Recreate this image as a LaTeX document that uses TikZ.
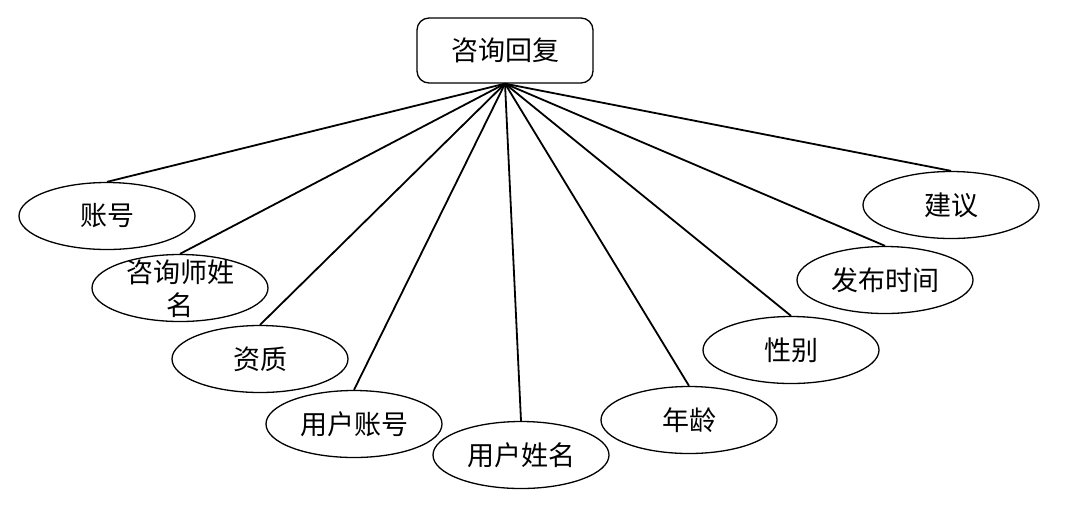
\documentclass[tikz,border=0pt]{standalone}
\usepackage{fontspec}
\newfontfamily\cjk{Noto Sans CJK SC}
\usetikzlibrary{shapes.geometric}
\begin{document}
\begin{tikzpicture}[x=1pt,y=-1pt,
  attr/.style={ellipse,draw,line width=1.3pt,minimum width=176pt,minimum height=67pt,inner sep=0pt,font=\cjk\fontsize{27}{32}\selectfont},
  ent/.style={rectangle,rounded corners=12pt,draw,line width=1.3pt,minimum width=176pt,minimum height=65pt,inner sep=0pt,font=\cjk\fontsize{27}{32}\selectfont},
  link/.style={line width=1.8pt}]
\useasboundingbox (0,0) rectangle (1075,507);
\node[ent] (top) at (505,50.5) {咨询回复};
\coordinate (hub) at (top.south);
\node[attr] (a1) at (107,216) {账号};
\node[attr] (a2) at (180,288) {};
\node[align=center,inner sep=0pt,font=\cjk\fontsize{27}{33}\selectfont] (a2t) at (180,289) {咨询师姓\\名};
\node[attr] (a3) at (260,359) {资质};
\node[attr] (a4) at (354,424) {用户账号};
\node[attr] (a5) at (521,455) {用户姓名};
\node[attr] (a6) at (689,420) {年龄};
\node[attr] (a7) at (791,350) {性别};
\node[attr] (a8) at (885,280) {发布时间};
\node[attr] (a9) at (951,205) {建议};
\foreach \n in {a1,a2,a3,a4,a5,a6,a7,a8,a9}
  \draw[link] (hub) -- (\n.north);
\end{tikzpicture}
\end{document}
